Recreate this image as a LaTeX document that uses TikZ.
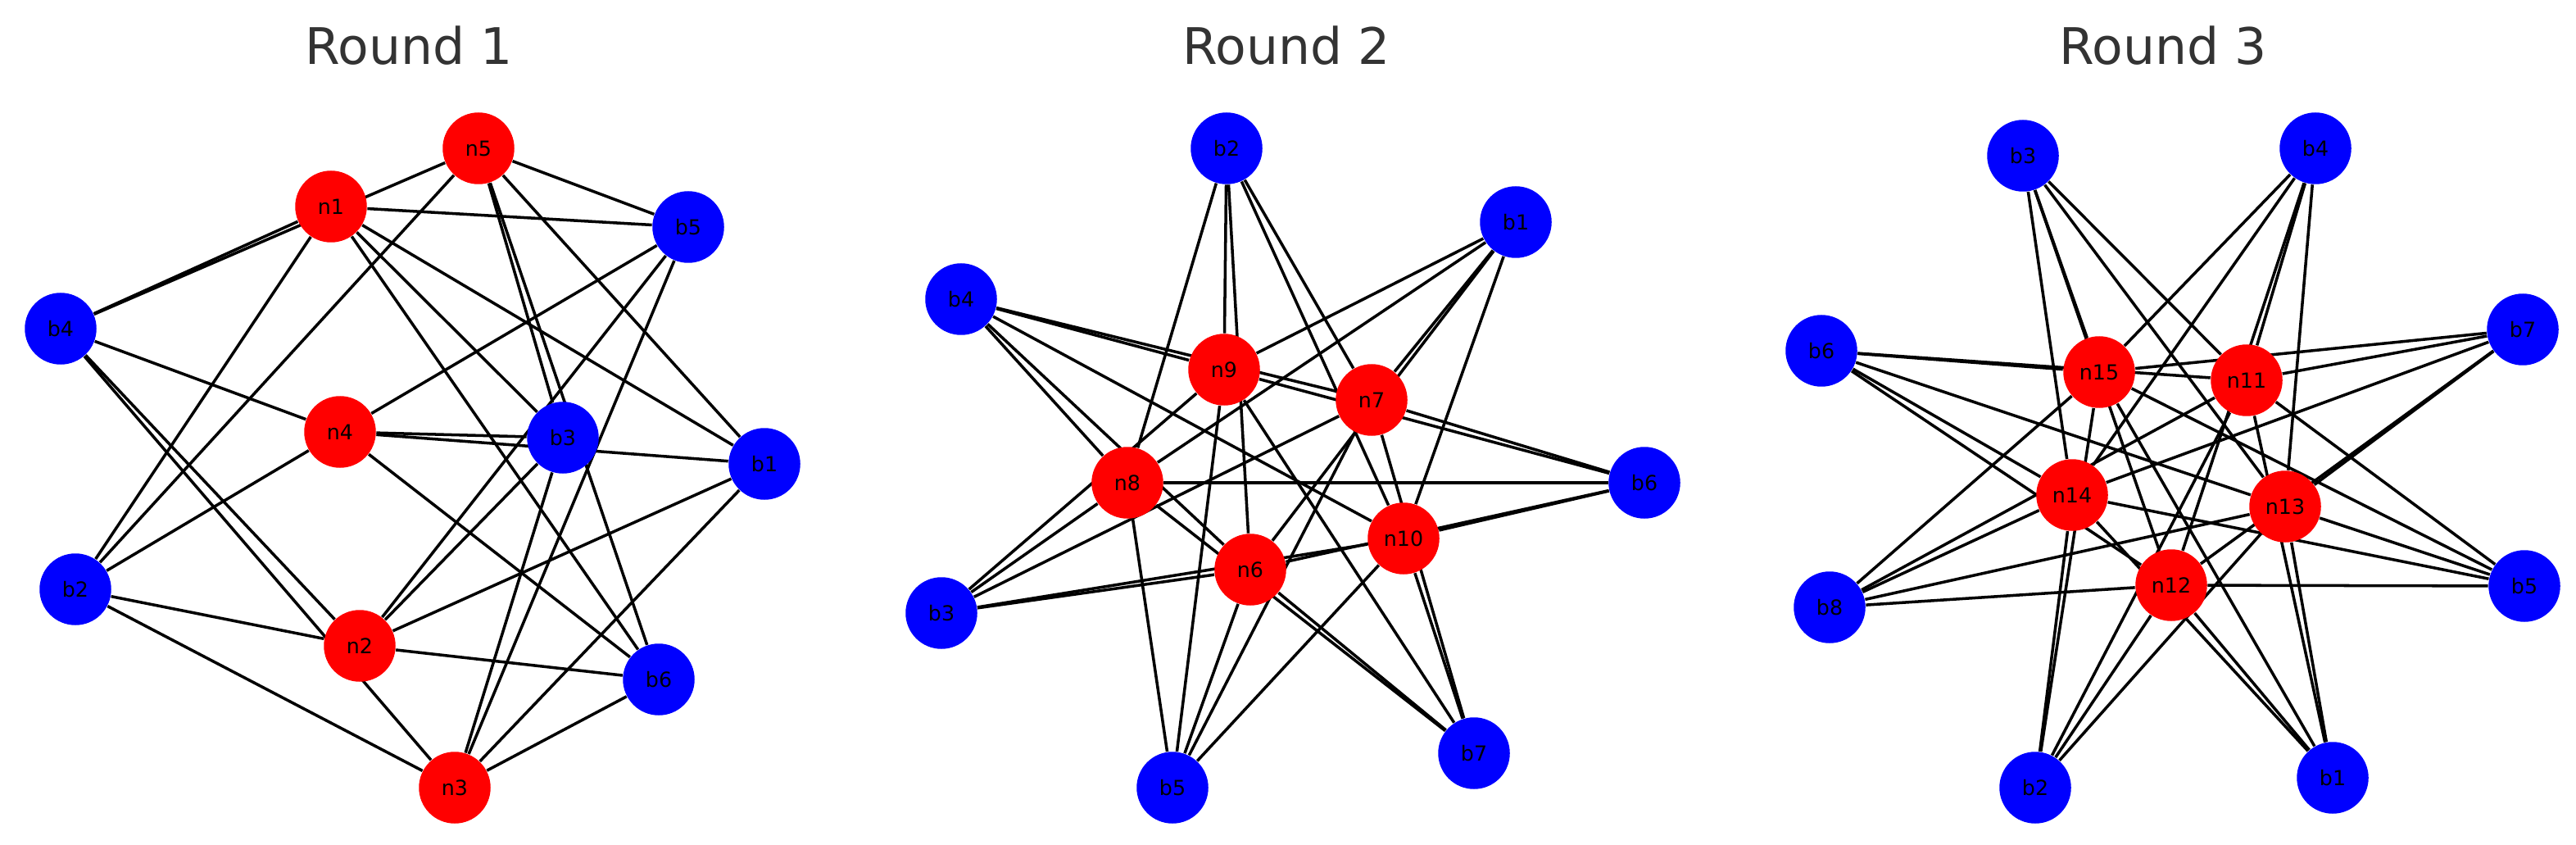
\documentclass[tikz,border=0pt]{standalone}
\usepackage{fontspec}
\setmainfont{DejaVu Sans}
\usetikzlibrary{backgrounds}
\definecolor{titlegray}{RGB}{51,51,51}

\begin{document}
\begin{tikzpicture}[
    rednode/.style={circle,fill=red,minimum size=0.875cm,inner sep=0pt,font=\fontsize{7.2}{8}\selectfont},
    bluenode/.style={circle,fill=blue,minimum size=0.875cm,inner sep=0pt,font=\fontsize{7.2}{8}\selectfont},
    edge/.style={black,line width=1pt},
    roundtitle/.style={anchor=base,text=titlegray,font=\fontsize{17.5}{20}\selectfont}]
    \useasboundingbox (0,0) rectangle (31.44,10.30);
    % Round 1
    \node[roundtitle] (t1) at (4.99,9.51) {Round 1};
    \node[rednode] (n1) at (4.04,7.78) {n1};
    \node[rednode] (n2) at (4.39,2.42) {n2};
    \node[rednode] (n3) at (5.55,0.69) {n3};
    \node[rednode] (n4) at (4.15,5.03) {n4};
    \node[rednode] (n5) at (5.84,8.49) {n5};
    \node[bluenode] (p1b1) at (9.33,4.64) {b1};
    \node[bluenode] (p1b2) at (0.92,3.11) {b2};
    \node[bluenode] (p1b3) at (6.87,4.96) {b3};
    \node[bluenode] (p1b4) at (0.74,6.29) {b4};
    \node[bluenode] (p1b5) at (8.40,7.53) {b5};
    \node[bluenode] (p1b6) at (8.04,2.01) {b6};
    % Round 2
    \node[roundtitle] (t2) at (15.70,9.51) {Round 2};
    \node[rednode] (n6) at (15.26,3.35) {n6};
    \node[rednode] (n7) at (16.74,5.42) {n7};
    \node[rednode] (n8) at (13.76,4.41) {n8};
    \node[rednode] (n9) at (14.94,5.79) {n9};
    \node[rednode] (n10) at (17.13,3.73) {n10};
    \node[bluenode] (p2b1) at (18.50,7.59) {b1};
    \node[bluenode] (p2b2) at (14.97,8.49) {b2};
    \node[bluenode] (p2b3) at (11.49,2.82) {b3};
    \node[bluenode] (p2b4) at (11.73,6.65) {b4};
    \node[bluenode] (p2b5) at (14.31,0.69) {b5};
    \node[bluenode] (p2b6) at (20.07,4.41) {b6};
    \node[bluenode] (p2b7) at (17.99,1.11) {b7};
    % Round 3
    \node[roundtitle] (t3) at (26.40,9.51) {Round 3};
    \node[rednode] (n11) at (27.42,5.66) {n11};
    \node[rednode] (n12) at (26.50,3.16) {n12};
    \node[rednode] (n13) at (27.89,4.12) {n13};
    \node[rednode] (n14) at (25.29,4.26) {n14};
    \node[rednode] (n15) at (25.62,5.76) {n15};
    \node[bluenode] (p3b1) at (28.47,0.81) {b1};
    \node[bluenode] (p3b2) at (24.84,0.69) {b2};
    \node[bluenode] (p3b3) at (24.69,8.40) {b3};
    \node[bluenode] (p3b4) at (28.26,8.49) {b4};
    \node[bluenode] (p3b5) at (30.81,3.15) {b5};
    \node[bluenode] (p3b6) at (22.23,6.02) {b6};
    \node[bluenode] (p3b7) at (30.79,6.28) {b7};
    \node[bluenode] (p3b8) at (22.33,2.89) {b8};
    \begin{pgfonlayer}{background}
        \foreach \r in {1,...,5}
            \foreach \b in {1,...,6}
                \draw[edge] (n\r) -- (p1b\b);
        \foreach \r in {6,...,10}
            \foreach \b in {1,...,7}
                \draw[edge] (n\r) -- (p2b\b);
        \foreach \r in {11,...,15}
            \foreach \b in {1,...,8}
                \draw[edge] (n\r) -- (p3b\b);
    \end{pgfonlayer}
\end{tikzpicture}
\end{document}
